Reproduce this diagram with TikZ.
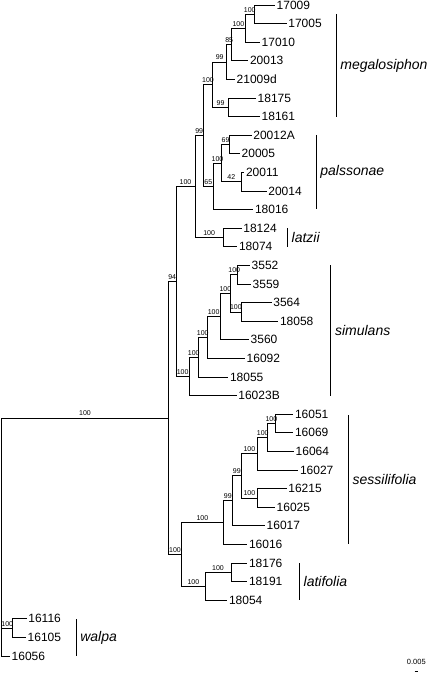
\documentclass[tikz,border=0pt]{standalone}
\usepackage{fontspec}
\setmainfont{Liberation Sans}
\tikzstyle{branch}=[line width=.7pt]
\tikzstyle{leaf}=[anchor=west, inner sep=1.5pt, font=\fontsize{12}{14}\selectfont]
\tikzstyle{boot}=[above, inner sep=1.6pt, font=\fontsize{7}{8}\selectfont]
\tikzstyle{clade}=[anchor=west, inner sep=4pt, font=\fontsize{14}{16}\selectfont\itshape]
\tikzstyle{bar}=[line width=.7pt]

\begin{document}
\begin{tikzpicture}[x=1pt, y=-1pt]
    \useasboundingbox (0,0) rectangle (432,676);
    \foreach \name/\tip [count=\i from 0] in {17009/275, 17005/286.7, 17010/260,
        20013/248.3, 21009d/235, 18175/256, 18161/260, 20012A/251.7, 20005/240,
        20011/244.3, 20014/266.7, 18016/253.3, 18124/241.7, 18074/237.3,
        3552/250, 3559/251, 3564/271.7, 18058/278.3, 3560/249, 16092/245,
        18055/228.3, 16023B/236.7, 16051/293.3, 16069/293.3, 16064/294,
        16027/298.3, 16215/286.7, 16025/275, 16017/265, 16016/247.3,
        18176/247.3, 18191/247.3, 18054/227.3, 16116/26.7, 16105/26, 16056/10}
        \node[leaf] (n\i) at (\tip, 5+18.6*\i) {\name};
    \foreach \c/\x/\y in {A/254.5/14.3, B/245/28.3, C/231.7/44.5, D/226.7/62,
        E/228.3/107.3, F/212.7/84.6, J/229.3/144.5, K/241/181.7, I/221.7/163.1,
        H/213.3/186.4, G/203.3/135.5, L/223.3/237.5, M/195/186.5,
        O/237.7/274.7, P/241/311.9, Q/230.7/293.3, R/220/316.6, S/207.3/337.5,
        T/198.3/357.2, U/189.3/376.4, N/176/281.5,
        Sa/275/423.5, Sb/267.7/437.5, Sc/257.7/453.7, Sd/257.7/497.9,
        Se/241/475.8, Sf/232.7/500.8, Sg/223/522.6, Lh/231/572.3, Li/205/586.3,
        W/181.7/554.4, V/168.3/418, Y/12.7/628.1, root/1.7/537}
        \coordinate (\c) at (\x,\y);
    \foreach \p/\c/\b in {B/A/100, C/B/100, D/C/85, F/D/99, F/E/99, G/F/100,
        I/J/69, I/K/42, H/I/100, G/H/65, M/G/99, M/L/100, N/M/100,
        Q/O/100, Q/P/100, R/Q/100, S/R/100, T/S/100, U/T/100, N/U/100, V/N/94,
        Sb/Sa/100, Sc/Sb/100, Se/Sc/100, Se/Sd/100, Sf/Se/99, Sg/Sf/99,
        W/Sg/100, Li/Lh/100, W/Li/100, V/W/100, root/V/100, root/Y/100}
        \draw[branch] (\p) |- (\c) node[boot, pos=.75] {\b};
    \foreach \p/\i in {A/0, A/1, B/2, C/3, D/4, E/5, E/6, J/7, J/8, K/9, K/10,
        H/11, L/12, L/13, O/14, O/15, P/16, P/17, R/18, S/19, T/20, U/21,
        Sa/22, Sa/23, Sb/24, Sc/25, Sd/26, Sd/27, Sf/28, Sg/29, Lh/30, Lh/31,
        Li/32, Y/33, Y/34, root/35}
        \draw[branch] (\p) |- (n\i.west);
    \foreach \name/\x/\top/\bot in {megalosiphon/336/14/117, palssonae/316/135/209.3,
        latzii/287.3/228/246.7, simulans/330.7/265/395.7,
        sessilifolia/348.3/415/544.3, latifolia/299.3/563.3/600, walpa/76/619.3/656}
        \draw[bar] (\x,\top) -- node[clade, pos=.5] (\name) {\name} (\x,\bot);
    \node[font=\fontsize{7.5}{9}\selectfont] (scale) at (416.3,662) {0.005};
    \draw[bar] (414.5,671) -- (418,671);
\end{tikzpicture}
\end{document}
